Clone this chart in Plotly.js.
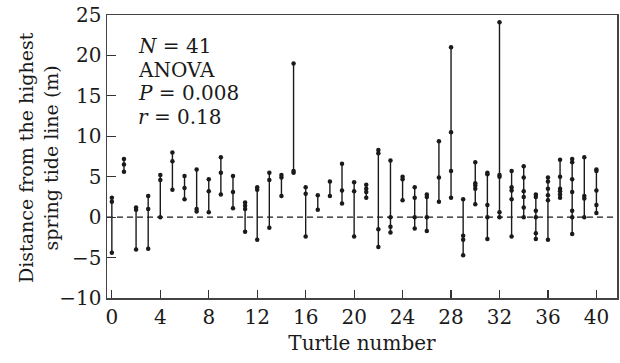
<!DOCTYPE html>
<html>
<head>
<meta charset="utf-8">
<script src="https://cdn.plot.ly/plotly-3.0.1.min.js"></script>
<style>html,body{margin:0;padding:0;background:#fff;}#chart{width:620px;height:363px;}</style>
</head>
<body>
<div id="chart"></div>
<script>
// Turtle numbers
var turtles = [0,1,2,3,4,5,6,7,8,9,10,11,12,13,14,15,16,17,18,19,20,21,22,23,24,25,26,27,28,29,30,31,32,33,34,35,36,37,38,39,40];
// Nest distances (m) from the highest spring tide line for each turtle
var distances = [
  [2.4, 1.9, -4.4],
  [7.2, 6.5, 5.6],
  [1.2, 0.9, -4.0],
  [2.6, 1.0, -3.9],
  [5.2, 4.6, 0.0],
  [8.0, 6.9, 3.4],
  [5.1, 3.6, 2.2],
  [5.9, 1.0, 0.7],
  [4.7, 3.2, 0.6],
  [7.4, 5.5, 2.8],
  [5.1, 3.1, 1.1],
  [1.8, 1.4, 1.0, -1.8],
  [3.7, 3.4, -2.8],
  [5.5, 4.6, -1.3],
  [5.2, 4.9, 2.6],
  [19.0, 5.7, 5.5],
  [3.7, 2.9, -2.4],
  [2.7, 0.9],
  [4.4, 2.6],
  [6.6, 3.3, 1.7],
  [4.3, 3.2, -2.4],
  [4.0, 3.5, 3.1, 2.4],
  [8.3, 7.9, -1.5, -3.7],
  [7.0, 0.0, -1.2, -1.9],
  [5.0, 4.7, 2.1],
  [3.7, 2.4, 0.0, -1.4],
  [2.8, 2.5, 0.0, -1.7],
  [9.4, 4.9, 1.9],
  [21.0, 10.5, 5.7, 2.4],
  [2.2, -2.3, -2.8, -4.7],
  [6.8, 4.2, 3.9, 3.5, 1.6],
  [5.5, 5.3, 1.5, 0.0, -2.7],
  [24.1, 5.2, 5.0, 0.6, 0.0],
  [5.7, 3.7, 3.3, 2.2, -2.4],
  [6.3, 4.9, 3.2, 2.5, 1.2, 0.0],
  [2.8, 2.5, 0.8, 0.0, -2.0, -2.7],
  [4.9, 4.4, 3.5, 2.7, 2.1, -2.8],
  [7.1, 5.0, 3.5, 3.2, 2.8, 2.4],
  [7.2, 6.8, 4.7, 3.1, 0.8, 0.0, -2.1],
  [7.4, 2.6, 2.3, 0.0],
  [5.9, 5.7, 3.3, 1.5, 0.5]
];
var xTicks = [0,4,8,12,16,20,24,28,32,36,40];
var yTicks = [-10,-5,0,5,10,15,20,25];
var statsLines = ['<i>N</i> = 41', 'ANOVA', '<i>P</i> = 0.008', '<i>r</i> = 0.18'];
var yTitle = 'Distance from the highest<br>spring tide line (m)';
var xTitle = 'Turtle number';

var xs = [], ys = [];
turtles.forEach(function (t, i) {
  distances[i].forEach(function (v) { xs.push(t); ys.push(v); });
  xs.push(null); ys.push(null);
});

var FONT = 'DejaVu Serif, serif';
var FS = 20;
var trace = {
  x: xs, y: ys, type: 'scatter', mode: 'lines+markers',
  connectgaps: false,
  line: {color: '#1a1a1a', width: 1.4},
  marker: {color: '#1a1a1a', size: 4.5},
  hoverinfo: 'none', showlegend: false
};

// stats text line centres (px from top of figure), converted to paper coords
var plotTop = 15, plotH = 283, plotL = 107, plotW = 510;
var lineCentres = [46, 69.5, 93, 116.5];
var annotations = statsLines.map(function (s, i) {
  return {
    xref: 'paper', yref: 'paper', x: 0.057, y: 1 - (lineCentres[i] - plotTop) / plotH,
    xanchor: 'left', yanchor: 'middle', align: 'left', showarrow: false,
    text: s, font: {family: FONT, size: FS, color: '#1a1a1a'}
  };
});
// y-axis title as a rotated two-line label
annotations.push({
  xref: 'paper', yref: 'paper', x: (38 - plotL) / plotW, y: 1 - (158 - plotTop) / plotH,
  xanchor: 'center', yanchor: 'middle', textangle: -90, showarrow: false,
  text: yTitle, font: {family: FONT, size: 19, color: '#1a1a1a'}
});

var layout = {
  width: 620, height: 363,
  margin: {l: plotL, r: 3, t: plotTop, b: 65},
  paper_bgcolor: '#fff', plot_bgcolor: '#fff',
  font: {family: FONT, size: FS, color: '#1a1a1a'},
  xaxis: {
    range: [-0.4, 41.7], tickvals: xTicks, ticktext: xTicks.map(String),
    ticks: 'inside', ticklen: 8, tickwidth: 1.2, tickcolor: '#333',
    showline: true, linecolor: '#444', linewidth: 1.5, mirror: true,
    showgrid: false, zeroline: false,
    title: {text: xTitle, font: {family: FONT, size: FS}, standoff: 8},
    tickfont: {family: FONT, size: FS}
  },
  yaxis: {
    range: [-10, 25], tickvals: yTicks, ticktext: yTicks.map(function (v) { return v < 0 ? '\u2212' + Math.abs(v) : String(v); }),
    ticks: 'inside', ticklen: 9, tickwidth: 1.2, tickcolor: '#333',
    showline: true, linecolor: '#444', linewidth: 1.5, mirror: true,
    showgrid: false, zeroline: false,
    tickfont: {family: FONT, size: FS}
  },
  shapes: [{
    type: 'line', xref: 'paper', x0: 0, x1: 1, yref: 'y', y0: 0, y1: 0,
    line: {color: '#1a1a1a', width: 1.2, dash: '6px,4px'}, layer: 'below'
  }],
  annotations: annotations
};

Plotly.newPlot('chart', [trace], layout, {staticPlot: true, displayModeBar: false});
</script>
</body>
</html>
